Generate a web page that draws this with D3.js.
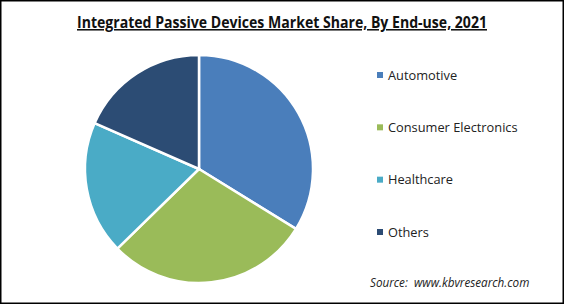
<!DOCTYPE html>
<html>
<head>
<meta charset="utf-8">
<script src="https://cdn.jsdelivr.net/npm/d3@7"></script>
<style>
    body { margin: 0; background: #fff; }
    svg { display: block; }
</style>
</head>
<body>
<div id="chart"></div>
<script>
// Data
let categories = ["Automotive", "Consumer Electronics", "Healthcare", "Others"];
let shares = [33.8, 28.9, 18.9, 18.4];
let colors = ["#4a7ebb", "#9abb59", "#4aabc6", "#2c4c74"];

let width = 565, height = 304;

let svg = d3.select("#chart").append("svg")
    .attr("width", width)
    .attr("height", height);

// frame
svg.append("rect")
    .attr("x", 0.75)
    .attr("y", 0.75)
    .attr("width", width - 2.5)
    .attr("height", height - 1.5)
    .attr("fill", "none")
    .attr("stroke", "#000")
    .attr("stroke-width", 1.5);

// Title (narrower font in the original, so squeeze to its width)
svg.append("text")
    .attr("x", 77)
    .attr("y", 28)
    .attr("font-family", "'Open Sans', sans-serif")
    .attr("font-weight", "bold")
    .attr("font-size", 15.5)
    .attr("fill", "#111")
    .attr("text-decoration", "underline")
    .attr("textLength", 410)
    .attr("lengthAdjust", "spacingAndGlyphs")
    .text("Integrated Passive Devices Market Share, By End-use, 2021");

// Pie
let data = categories.map((c, i) => ({ name: c, value: shares[i], color: colors[i] }));

let pie = d3.pie()
    .sort(null)
    .value(d => d.value);

let arc = d3.arc()
    .innerRadius(0)
    .outerRadius(114);

let g = svg.append("g")
    .attr("transform", "translate(199,169)");

g.selectAll(".slice")
    .data(pie(data))
    .enter().append("path")
    .attr("class", "slice")
    .attr("d", arc)
    .attr("fill", d => d.data.color)
    .attr("stroke", "#fff")
    .attr("stroke-width", 2.5);

// Legend
let legendY = d3.scalePoint()
    .domain(categories)
    .range([75, 232]);

let legend = svg.selectAll(".legend")
    .data(data)
    .enter().append("g")
    .attr("class", "legend")
    .attr("transform", d => "translate(377," + legendY(d.name) + ")");

legend.append("rect")
    .attr("x", 0)
    .attr("y", -3)
    .attr("width", 6)
    .attr("height", 6)
    .attr("fill", d => d.color);

legend.append("text")
    .attr("x", 11)
    .attr("y", 4.5)
    .attr("font-family", "'Open Sans', sans-serif")
    .attr("font-size", 12.8)
    .attr("fill", "#222")
    .text(d => d.name);

// Source
svg.append("text")
    .attr("x", 370)
    .attr("y", 287)
    .attr("font-family", "'Open Sans', sans-serif")
    .attr("font-style", "italic")
    .attr("font-size", 11.7)
    .attr("fill", "#222")
    .style("white-space", "pre")
    .text("Source:  www.kbvresearch.com");
</script>
</body>
</html>
